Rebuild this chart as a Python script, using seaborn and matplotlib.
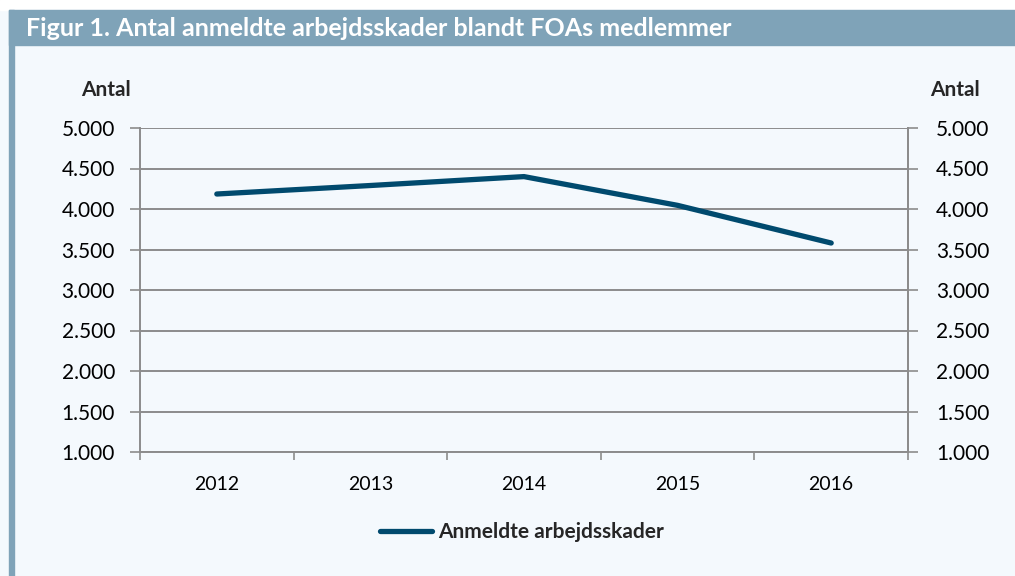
import matplotlib
matplotlib.use("Agg")
import matplotlib.pyplot as plt
import seaborn as sns
import pandas as pd
from matplotlib.patches import Rectangle
from matplotlib.lines import Line2D

years = ["2012", "2013", "2014", "2015", "2016"]
values = [4185, 4290, 4400, 4045, 3580]
yticks = [1000, 1500, 2000, 2500, 3000, 3500, 4000, 4500, 5000]
ytick_labels = ["1.000", "1.500", "2.000", "2.500", "3.000", "3.500", "4.000", "4.500", "5.000"]
series_name = "Anmeldte arbejdsskader"
title = "Figur 1. Antal anmeldte arbejdsskader blandt FOAs medlemmer"

sns.set_style("white")
plt.rcParams["font.family"] = ["Lato", "DejaVu Sans"]

bg = "#F4F9FD"
grid_c = "#8C8C8C"
line_c = "#004A6E"
bar_c = "#7FA3B8"
ytick_fs = 15
xtick_fs = 14

fig = plt.figure(figsize=(10.15, 5.76), dpi=100)
fig.patch.set_facecolor(bg)

# white top margin, title bar and left strip
fig.patches.append(Rectangle((0, 1 - 10/576), 1, 10/576, transform=fig.transFigure, color="white", zorder=0))
fig.patches.append(Rectangle((9/1015, 1 - 45/576), 1, 35/576, transform=fig.transFigure, color=bar_c, zorder=0))
fig.patches.append(Rectangle((9/1015, 0), 5/1015, 1 - 10/576, transform=fig.transFigure, color=bar_c, zorder=0))
fig.text(26/1015, 1 - 29/576, title, color="white", fontsize=18, fontweight="bold", va="center", ha="left")

ax = fig.add_axes([140/1015, 1 - 452/576, (908 - 140)/1015, (452 - 128)/576])
ax.set_facecolor(bg)
df = pd.DataFrame({"year": years, "value": values})
sns.lineplot(data=df, x="year", y="value", ax=ax, color=line_c, linewidth=3.8,
             solid_capstyle="round", zorder=3)
ax.set_xlim(-0.5, len(years) - 0.5)
ax.set_ylim(1000, 5000)
ax.set_yticks(yticks)
ax.set_yticklabels(ytick_labels)
ax.set_xlabel("")
ax.set_ylabel("")
for y in yticks:
    ax.axhline(y, color=grid_c, linewidth=1.4, zorder=1)
ax.spines["top"].set_visible(False)
for s in ["left", "right", "bottom"]:
    ax.spines[s].set_color(grid_c)
    ax.spines[s].set_linewidth(1.4)
ax.tick_params(axis="y", direction="out", length=7, width=1.2, color=grid_c,
               labelsize=ytick_fs, labelcolor="black", pad=11, left=True)
ax.set_xticks(range(len(years)))
ax.set_xticklabels(years)
ax.tick_params(axis="x", length=0, labelsize=xtick_fs, labelcolor="black", pad=17)
ax.set_xticks([i - 0.5 for i in range(len(years) + 1)], minor=True)
ax.tick_params(axis="x", which="minor", direction="out", length=6, width=1.2, color=grid_c, bottom=True)

ax2 = ax.twinx()
ax2.set_ylim(1000, 5000)
ax2.set_yticks(yticks)
ax2.set_yticklabels(ytick_labels)
for s in ["top", "left", "bottom"]:
    ax2.spines[s].set_visible(False)
ax2.spines["right"].set_color(grid_c)
ax2.spines["right"].set_linewidth(1.4)
ax2.tick_params(axis="y", direction="out", length=7, width=1.2, color=grid_c,
                labelsize=ytick_fs, labelcolor="black", pad=13, right=True)

fig.text(106/1015, 1 - 90/576, "Antal", fontsize=15, fontweight="bold", ha="center", va="center")
fig.text(955/1015, 1 - 90/576, "Antal", fontsize=15, fontweight="bold", ha="center", va="center")

handle = Line2D([], [], color=line_c, linewidth=3.8, solid_capstyle="round")
fig.legend([handle], [series_name], loc="center", bbox_to_anchor=(522/1015, 1 - 532/576),
           frameon=False, prop={"weight": "bold", "size": 15}, handlelength=2.5,
           handletextpad=0.25)

fig.savefig("out.png", dpi=100, facecolor=fig.get_facecolor())
